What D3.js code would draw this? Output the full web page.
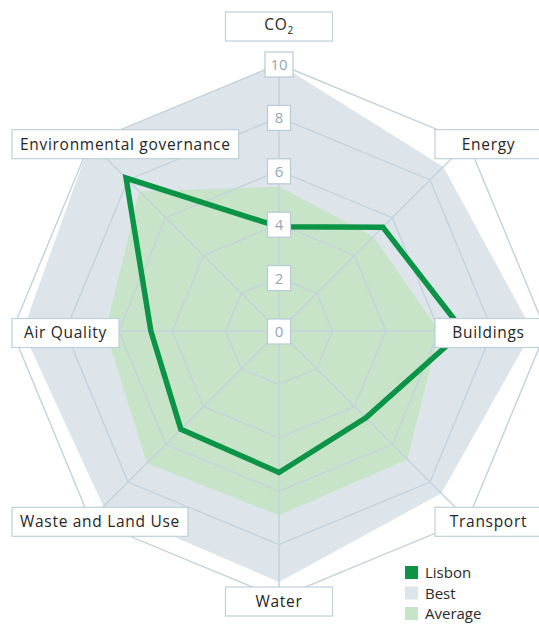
<!DOCTYPE html>
<html>
<head>
<meta charset="utf-8">
<script src="https://cdn.jsdelivr.net/npm/d3@7/dist/d3.min.js"></script>
<style>
  html, body { margin: 0; padding: 0; background: #fff; }
  svg { display: block; }
</style>
</head>
<body>
<svg id="chart"></svg>
<script>
const axes = ['CO2', 'Energy', 'Buildings', 'Transport', 'Water', 'Waste and Land Use', 'Air Quality', 'Environmental governance'];
const lisbon = [3.9, 5.5, 6.9, 4.6, 5.3, 5.2, 4.8, 8.1];
const best = [10, 8.7, 9.5, 8.6, 9.4, 9.3, 9.6, 10];
const average = [5.4, 5.0, 6.0, 6.8, 6.9, 7.0, 6.5, 7.4];
const ticks = [0, 2, 4, 6, 8, 10];

const W = 539, H = 628;
const cx = 279, cy = 331, R = 267;

const svg = d3.select('#chart').attr('width', W).attr('height', H);

const r = d3.scaleLinear().domain([0, 10]).range([0, R]);
const angle = d3.scalePoint().domain(axes).range([0, 2 * Math.PI * (axes.length - 1) / axes.length]);

const pt = (name, v) => {
    const a = angle(name);
    return [cx + r(v) * Math.sin(a), cy - r(v) * Math.cos(a)];
};

const radar = d3.lineRadial()
    .angle(d => angle(d.axis))
    .radius(d => r(d.value))
    .curve(d3.curveLinearClosed);

const toRows = vals => axes.map((axis, i) => ({ axis, value: vals[i] }));

const g = svg.append('g').attr('transform', `translate(${cx},${cy})`);

// fills
g.append('path').attr('d', radar(toRows(best))).attr('fill', '#dde5eb');
g.append('path').attr('d', radar(toRows(average))).attr('fill', '#c7e4c9');

// grid rings + spokes
const gridColor = '#c4d2dc';
ticks.filter(t => t > 0).forEach(t => {
    g.append('path')
        .attr('d', radar(axes.map(axis => ({ axis, value: t }))))
        .attr('fill', 'none')
        .attr('stroke', gridColor)
        .attr('stroke-width', 1.4);
});
axes.forEach(axis => {
    const [x, y] = pt(axis, 10);
    g.append('line')
        .attr('x1', 0).attr('y1', 0)
        .attr('x2', x - cx).attr('y2', y - cy)
        .attr('stroke', gridColor)
        .attr('stroke-width', 1.4);
});

// Lisbon
g.append('path')
    .attr('d', radar(toRows(lisbon)))
    .attr('fill', 'none')
    .attr('stroke', '#0b9446')
    .attr('stroke-width', 5.5)
    .attr('stroke-linejoin', 'miter');

// tick labels on the CO2 spoke
const tickG = svg.append('g');
ticks.forEach(t => {
    const [x, y] = pt(axes[0], t);
    const tg = tickG.append('g').attr('transform', `translate(${x},${y})`);
    const w = t >= 10 ? 28 : 23;
    tg.append('rect')
        .attr('x', -w / 2).attr('y', -12)
        .attr('width', w).attr('height', 25)
        .attr('fill', '#fff')
        .attr('stroke', '#b7cad6')
        .attr('stroke-width', 1.2);
    tg.append('text')
        .attr('text-anchor', 'middle')
        .attr('dy', '0.4em')
        .attr('font-family', 'Open Sans, sans-serif')
        .attr('font-size', 15)
        .attr('fill', '#93a7b6')
        .text(t);
});

// axis labels in boxes
const labelG = svg.append('g');
const margin = 12;
axes.forEach(axis => {
    const [x, y] = pt(axis, 10);
    const a = angle(axis);
    const lg = labelG.append('g');
    const txt = lg.append('text')
        .attr('font-family', 'Open Sans, sans-serif')
        .attr('font-size', 15.5)
        .attr('letter-spacing', 0.7)
        .attr('fill', '#262626')
        .attr('text-anchor', 'middle')
        .attr('dy', '0.35em');
    if (axis === 'CO2') {
        txt.append('tspan').text('CO');
        txt.append('tspan').attr('font-size', 10).attr('dy', 4).text('2');
    } else {
        txt.text(axis);
    }
    const tw = txt.node().getComputedTextLength();
    const bw = Math.max(107, tw + 16), bh = 29;
    let bx, by;
    const s = Math.round(Math.sin(a) * 1000) / 1000;
    const c = Math.round(Math.cos(a) * 1000) / 1000;
    if (s === 0) {
        bx = x - bw / 2;
        by = c > 0 ? y - bh - 23 : y - 11;
    } else if (s > 0) {
        bx = W + 3 - bw;
        by = y - bh / 2 + 2;
    } else {
        bx = margin;
        by = y - bh / 2 + 2;
    }
    lg.insert('rect', 'text')
        .attr('x', bx).attr('y', by)
        .attr('width', bw).attr('height', bh)
        .attr('fill', '#fff')
        .attr('stroke', '#bfd0da')
        .attr('stroke-width', 1.2);
    txt.attr('x', bx + bw / 2).attr('y', by + bh / 2 - (axis === 'CO2' ? 2 : 0));
});

// legend
const legend = [
    { name: 'Lisbon', color: '#0b9446' },
    { name: 'Best', color: '#dde5eb' },
    { name: 'Average', color: '#c7e4c9' }
];
const lgd = svg.append('g').attr('transform', 'translate(405,566)');
legend.forEach((d, i) => {
    const row = lgd.append('g').attr('transform', `translate(0,${i * 20.5})`);
    row.append('rect').attr('width', 13).attr('height', 13).attr('fill', d.color);
    row.append('text')
        .attr('x', 20).attr('y', 7).attr('dy', '0.35em')
        .attr('font-family', 'Open Sans, sans-serif')
        .attr('font-size', 15)
        .attr('fill', '#2b2b2b')
        .text(d.name);
});
</script>
</body>
</html>
